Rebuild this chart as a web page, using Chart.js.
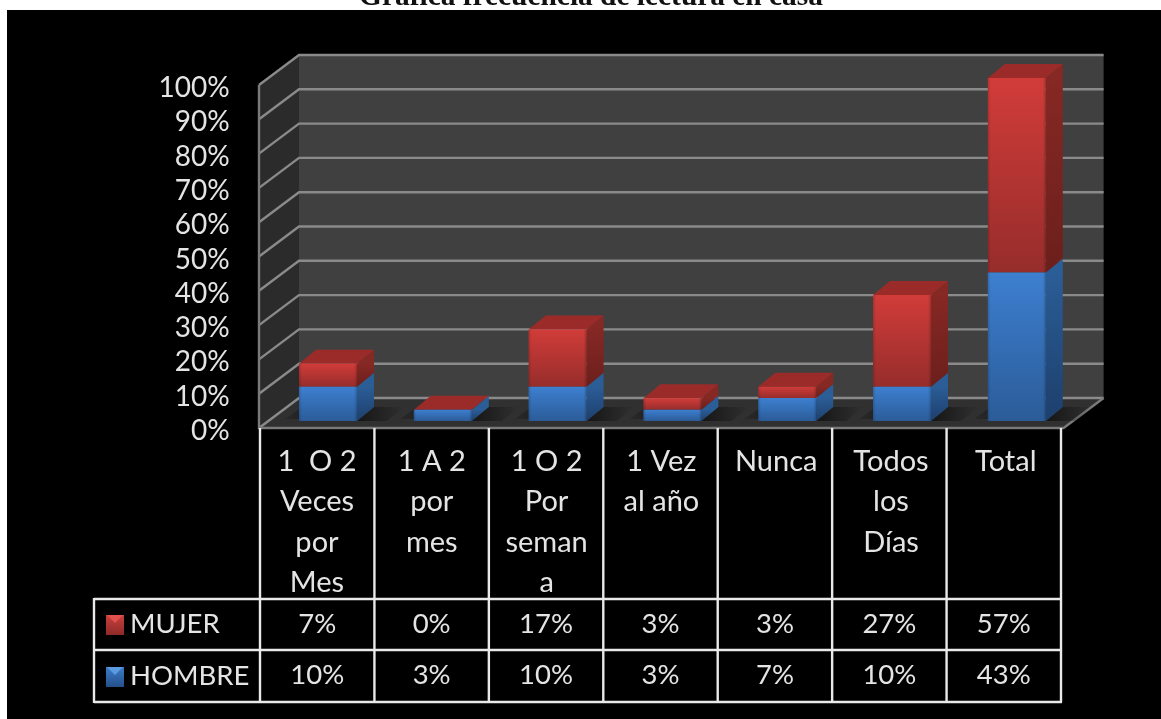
<!DOCTYPE html>
<html><head><meta charset="utf-8">
<style>html,body{margin:0;padding:0;background:#fff;overflow:hidden}#w{position:absolute;left:0;top:0;width:1161px;height:719px}</style>
<script src="https://cdn.jsdelivr.net/npm/chart.js@4"></script>
</head><body><div id="w"><canvas id="c" width="1161" height="719"></canvas></div>
<script>
const titleText = 'Gráfica frecuencia de lectura en casa';
const categories = [['1  O 2','Veces','por','Mes'],['1 A 2','por','mes'],['1 O 2','Por','seman','a'],['1 Vez','al año'],['Nunca'],['Todos','los','Días'],['Total']];
const hombre = [10,3.3,10,3.3,6.7,10,43.3];
const mujer = [6.7,0,16.7,3.3,3.3,26.7,56.7];
const seriesNames = ['MUJER','HOMBRE'];
const yTicks = [0,10,20,30,40,50,60,70,80,90,100];

const FONT = 'Lato';
const TXT = '#e4e4e4';
function grad(ctx,y0,y1,a,b){const g=ctx.createLinearGradient(0,y0,0,y1);g.addColorStop(0,a);g.addColorStop(1,b);return g;}
function segFill(top,bot){
  return c=>{
    const ch=c.chart, s=ch.scales.y; if(!s||c.type!=='data') return top;
    const i=c.dataIndex;
    const lo=c.datasetIndex===0?0:hombre[i], hi=lo+(c.datasetIndex===0?hombre[i]:mujer[i]);
    const a=s.getPixelForValue(hi),b=s.getPixelForValue(lo);
    if(!isFinite(a)||!isFinite(b)) return top;
    return grad(ch.ctx,a,b,top,bot);
  };
}
const D={fx:-11.6,fy:7,bx:28.4,by:-23,dx:17,dy:-14};
function poly(ctx,pts,fill){ctx.beginPath();pts.forEach((p,i)=>i?ctx.lineTo(p[0],p[1]):ctx.moveTo(p[0],p[1]));ctx.closePath();ctx.fillStyle=fill;ctx.fill();}

const scene={id:'scene',
  beforeDraw(ch){
    const c=ch.ctx,{left,right}=ch.chartArea,y=ch.scales.y;
    c.save();
    c.fillStyle='#000';c.fillRect(7,10,1154,709);
    c.fillStyle='#111';c.font='bold 29.4px "Liberation Serif"';c.textAlign='center';c.textBaseline='alphabetic';
    c.fillText(titleText,591,5);
    c.fillStyle='#000';c.fillRect(7,10,1154,30);
    const L=left+D.fx,R=right+D.fx+1,BL=left+D.bx,BR=right+D.bx+1;
    const y0=y.getPixelForValue(0),y1=y.getPixelForValue(100);
    // walls
    poly(c,[[BL,y1+D.by],[BR,y1+D.by],[BR,y0+D.by],[BL,y0+D.by]],'#404040');
    poly(c,[[L,y1+D.fy],[BL,y1+D.by],[BL,y0+D.by],[L,y0+D.fy]],'#2b2b2b');
    poly(c,[[L,y0+D.fy],[BL,y0+D.by],[BR,y0+D.by],[R,y0+D.fy]],'#303030');
    // gridlines
    c.strokeStyle='#8a8a8a';c.lineWidth=2.4;
    yTicks.forEach(v=>{const p=y.getPixelForValue(v);c.beginPath();c.moveTo(L,p+D.fy);c.lineTo(BL,p+D.by);c.lineTo(BR,p+D.by);c.stroke();});
    c.beginPath();c.moveTo(BR,y0+D.by);c.lineTo(R,y0+D.fy);c.lineTo(L,y0+D.fy);c.lineTo(L,y1+D.fy);c.lineWidth=2.4;c.strokeStyle='#7a7a7a';c.stroke();
    c.restore();
  },
  beforeDatasetsDraw(ch){
    const c=ch.ctx,m=ch.getDatasetMeta(0).data;
    c.save();
    m.forEach(b=>{
      const r=b.x+b.width/2,base=ch.scales.y.getPixelForValue(0);
      const g=c.createLinearGradient(r,0,r+48,0);g.addColorStop(0,'rgba(0,0,0,.55)');g.addColorStop(1,'rgba(0,0,0,0)');
      poly(c,[[r,base],[r+D.dx,base+D.dy],[r+48,base+D.dy],[r+30,base]],g);
      const h=c.createLinearGradient(b.x-b.width/2-30,0,b.x-b.width/2+5,0);h.addColorStop(0,'rgba(0,0,0,0)');h.addColorStop(1,'rgba(0,0,0,.3)');
      poly(c,[[b.x-b.width/2-14,base-2],[b.x-b.width/2,base-2],[b.x-b.width/2+D.dx,base+D.dy],[b.x-b.width/2+3,base+D.dy]],h);
    });
    // side and top faces of each stacked segment, lower segment first
    ch.data.datasets.forEach((ds,di)=>{
      const els=ch.getDatasetMeta(di).data;
      els.forEach((b,i)=>{
        const r=b.x+b.width/2,l=b.x-b.width/2,t=b.y,bt=b.base;
        if(ds.data[i]>0){
          const f=di===0?grad(c,t,bt,'#2b5d96','#1d3f6d'):grad(c,t,bt,'#862824','#6c1f1c');
          poly(c,[[r,t],[r+D.dx,t+D.dy],[r+D.dx,bt+D.dy],[r,bt]],f);
        }
        if(di===1) poly(c,[[l,t],[l+D.dx,t+D.dy],[r+D.dx,t+D.dy],[r,t]],'#9b2b28');
      });
    });
    c.restore();
  },
  afterDatasetsDraw(ch){
    const c=ch.ctx;
    c.save();
    // soft edge on bar fronts
    ch.data.datasets.forEach((ds,di)=>{
      ch.getDatasetMeta(di).data.forEach(b=>{
        const l=b.x-b.width/2,r=b.x+b.width/2,h=b.base-b.y; if(h<=0)return;
        const g=c.createLinearGradient(l,0,r,0);
        g.addColorStop(0,'rgba(0,0,0,.16)');g.addColorStop(.05,'rgba(0,0,0,0)');g.addColorStop(.95,'rgba(0,0,0,0)');g.addColorStop(1,'rgba(0,0,0,.2)');
        c.fillStyle=g;c.fillRect(l,b.y,r-l,h);
      });
    });
    c.restore();
  },
  afterDraw(ch){
    const c=ch.ctx,n=categories.length,X0=260,X1=1061,cw=(X1-X0)/n;
    const top=428,a=599,b=650,e=702,tl=94;
    c.save();
    c.strokeStyle='#e9e9e9';c.lineWidth=2.4;
    for(let i=0;i<=n;i++){const x=X0+i*cw;c.beginPath();c.moveTo(x,top);c.lineTo(x,e);c.stroke();}
    [a,b,e].forEach(y=>{c.beginPath();c.moveTo(tl,y);c.lineTo(X1+1,y);c.stroke();});
    c.beginPath();c.moveTo(tl,a-1);c.lineTo(tl,e+1);c.stroke();
    c.fillStyle=TXT;c.font='27.5px '+FONT;c.textAlign='center';c.textBaseline='middle';
    [mujer,hombre].forEach((arr,r)=>{
      const y=r?675:624;
      arr.forEach((v,i)=>c.fillText(Math.round(v)+'%',X0+(i+.5)*cw,y));
    });
    c.textAlign='left';
    [[seriesNames[0],624,615,'#e0504c','#8f2a28'],[seriesNames[1],676,667,'#5a9be0','#24508a']].forEach(([t,y,ky,a1,a2])=>{
      c.fillStyle=TXT;c.fillText(t,130,y);
      c.fillStyle=grad(c,ky,ky+20,a2==='#8f2a28'?'#c9403c':'#3c7cc8',a2);c.fillRect(106,ky,18,20);
      c.beginPath();c.moveTo(107,ky);c.lineTo(123,ky);c.lineTo(115,ky+8);c.closePath();c.fillStyle=a1;c.fill();
    });
    c.restore();
  }
};
const chart=new Chart(document.getElementById('c'),{
  type:'bar',
  data:{labels:categories,datasets:[
    {label:seriesNames[1],data:hombre,backgroundColor:segFill('#3d7fd0','#2b5c98'),barPercentage:.505,categoryPercentage:1,borderWidth:0},
    {label:seriesNames[0],data:mujer,backgroundColor:segFill('#d13c39','#962d2b'),barPercentage:.505,categoryPercentage:1,borderWidth:0}
  ]},
  plugins:[scene],
  options:{
    responsive:false,animation:false,
    devicePixelRatio:1,
    layout:{padding:{left:0,top:78,right:86.8,bottom:0}},
    plugins:{legend:{display:false},tooltip:{enabled:false},title:{display:false}},
    scales:{
      x:{stacked:true,grid:{display:false,drawTicks:false},border:{display:false},
        afterFit(s){s.height=298;},
        ticks:{autoSkip:false,maxRotation:0,minRotation:0,labelOffset:-11,padding:20,color:TXT,font:{family:FONT,size:29,lineHeight:1.4}}},
      y:{stacked:true,min:0,max:100,grid:{display:false,drawTicks:false},border:{display:false},
        afterFit(s){s.width=270.6;},
        afterBuildTicks(s){s.ticks=yTicks.map(v=>({value:v}));},
        ticks:{autoSkip:false,callback:v=>v+'%',labelOffset:10,padding:41,color:TXT,font:{family:FONT,size:28}}}
    }
  }
});
chart.update();
</script></body></html>
